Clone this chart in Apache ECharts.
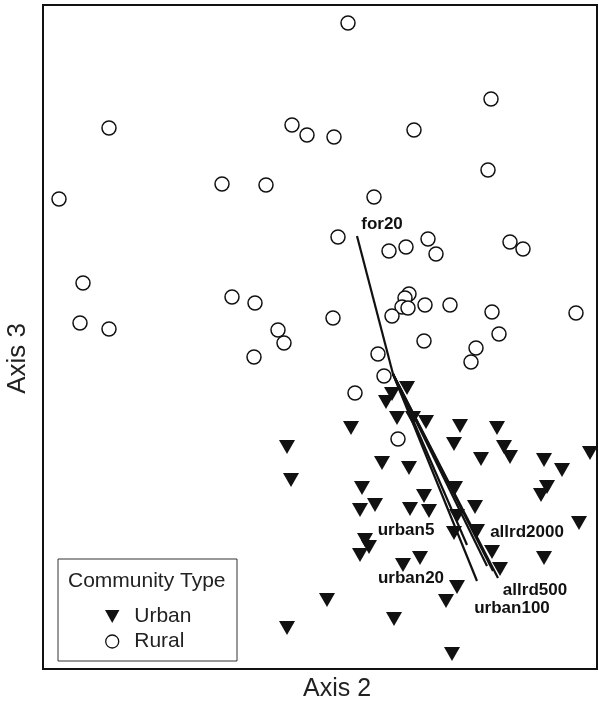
<!DOCTYPE html>
<html>
<head>
<meta charset="utf-8">
<script src="https://cdn.jsdelivr.net/npm/echarts@6/dist/echarts.min.js"></script>
<style>
  html, body { margin: 0; padding: 0; background: #fff; }
  #chart { width: 599px; height: 704px; }
</style>
</head>
<body>
<div id="chart"></div>
<script>
// site scores (Axis 2, Axis 3)
const ruralSites = [
  [-0.45, 3.51], [0.98, 2.75], [-2.84, 2.46], [-1.01, 2.49], [-0.86, 2.39],
  [-0.59, 2.37], [0.21, 2.44], [0.95, 2.04], [-3.34, 1.75], [-1.71, 1.90],
  [-1.27, 1.89], [-0.19, 1.77], [-0.55, 1.37], [-0.04, 1.23], [0.13, 1.27],
  [0.35, 1.35], [0.43, 1.20], [1.17, 1.32], [1.30, 1.25], [-3.10, 0.91],
  [-3.13, 0.51], [-2.84, 0.45], [-1.61, 0.77], [-1.38, 0.71], [-1.15, 0.44],
  [-1.09, 0.31], [-1.39, 0.17], [0.16, 0.80], [0.12, 0.76], [0.09, 0.67],
  [0.15, 0.66], [-0.01, 0.58], [0.32, 0.69], [0.57, 0.69], [0.99, 0.62],
  [1.06, 0.40], [0.83, 0.26], [0.78, 0.12], [0.31, 0.33], [-0.15, 0.20],
  [-0.09, -0.02], [-0.60, 0.56], [1.83, 0.61], [-0.38, -0.19], [0.05, -0.65]
];
const urbanSites = [
  [0.14, -0.14], [-0.01, -0.20], [-0.07, -0.28], [-0.42, -0.54], [0.04, -0.44],
  [0.20, -0.44], [0.33, -0.48], [0.67, -0.52], [1.04, -0.54], [0.61, -0.70],
  [1.11, -0.73], [1.17, -0.83], [0.88, -0.85], [1.51, -0.86], [1.69, -0.96],
  [1.97, -0.79], [-0.11, -0.89], [0.16, -0.94], [-1.06, -0.73], [-1.02, -1.06],
  [-0.31, -1.14], [0.62, -1.14], [0.31, -1.22], [1.54, -1.13], [1.48, -1.21],
  [-0.33, -1.36], [-0.18, -1.31], [0.17, -1.35], [0.36, -1.37], [0.82, -1.33],
  [0.64, -1.42], [0.61, -1.59], [0.84, -1.57], [1.86, -1.49], [-0.28, -1.66],
  [-0.24, -1.73], [-0.33, -1.81], [0.10, -1.91], [0.27, -1.84], [0.99, -1.78],
  [1.07, -1.95], [1.51, -1.84], [0.64, -2.13], [0.53, -2.27], [-0.66, -2.26],
  [0.01, -2.45], [-1.06, -2.54], [0.59, -2.80]
];

// environmental vectors (tip of each arrow from the origin)
const vectorNames = ["for20", "urban5", "urban20", "urban100", "allrd2000", "allrd500"];
const vectorTips = [[-0.36, 1.38], [0.74, -1.71], [0.84, -2.07], [0.94, -1.92], [1.00, -1.97], [1.05, -2.04]];
// where each vector name sits
const vectorLabelPos = [[-0.11, 1.50], [0.13, -1.56], [0.18, -2.04], [1.19, -2.34], [1.34, -1.58], [1.42, -2.16]];

const axisRange = { xMin: -3.50, xMax: 2.04, yMin: -2.95, yMax: 3.69 };

const downTriangle = "path://M0,0 L20,0 L10,18 Z";
const font = "'Liberation Sans', Arial, sans-serif";

let myChart = echarts.init(document.getElementById("chart"));

let option = {
  animation: false,
  grid: {
    left: 43, right: 2, top: 5, bottom: 35,
    show: true,
    borderColor: "#111",
    borderWidth: 2
  },
  xAxis: {
    type: "value",
    min: axisRange.xMin, max: axisRange.xMax,
    axisLine: { show: false }, axisTick: { show: false },
    axisLabel: { show: false }, splitLine: { show: false }
  },
  yAxis: {
    type: "value",
    min: axisRange.yMin, max: axisRange.yMax,
    axisLine: { show: false }, axisTick: { show: false },
    axisLabel: { show: false }, splitLine: { show: false }
  },
  legend: {
    z: 20,
    orient: "vertical",
    left: 105,
    top: 606,
    itemWidth: 34,
    itemHeight: 13,
    itemGap: 4,
    padding: 0,
    textStyle: { fontFamily: font, fontSize: 21, color: "#222", lineHeight: 21 },
    data: [
      { name: "Urban", icon: downTriangle, itemStyle: { color: "#111" } },
      { name: "Rural", icon: "circle", itemStyle: { color: "#fff", borderColor: "#111", borderWidth: 1.3 } }
    ]
  },
  graphic: [
    {
      type: "rect", z: 5,
      shape: { x: 58, y: 559, width: 179, height: 102 },
      style: { fill: "#fff", stroke: "#333", lineWidth: 1 }
    },
    {
      type: "text", z: 6,
      left: 68, top: 571,
      style: { text: "Community Type", font: "21px " + font, fill: "#222" }
    },
    {
      type: "text",
      left: 303, top: 677,
      style: { text: "Axis 2", font: "25px " + font, fill: "#222" }
    },
    {
      type: "text",
      left: 5, top: 323,
      rotation: Math.PI / 2,
      originX: 0, originY: 0,
      style: { text: "Axis 3", font: "26px " + font, fill: "#222" }
    }
  ],
  series: [
    {
      name: "Rural",
      type: "scatter",
      symbol: "circle",
      symbolSize: 14,
      itemStyle: { color: "#fff", borderColor: "#111", borderWidth: 1.5, opacity: 1 },
      data: ruralSites
    },
    {
      name: "Urban",
      type: "scatter",
      symbol: downTriangle,
      symbolSize: [16, 14],
      itemStyle: { color: "#111", opacity: 1 },
      data: urbanSites
    },
    {
      name: "vectors",
      type: "lines",
      coordinateSystem: "cartesian2d",
      lineStyle: { color: "#111", width: 2.2, opacity: 1 },
      data: vectorTips.map(t => ({ coords: [[0, 0], t] }))
    },
    {
      name: "vectorLabels",
      type: "scatter",
      symbolSize: 0,
      itemStyle: { opacity: 1 },
      label: {
        show: true,
        position: "inside",
        formatter: p => p.name,
        fontFamily: font,
        fontWeight: "bold",
        fontSize: 17,
        color: "#111"
      },
      data: vectorNames.map((n, i) => ({ name: n, value: vectorLabelPos[i] }))
    }
  ]
};
myChart.setOption(option);
</script>
</body>
</html>
